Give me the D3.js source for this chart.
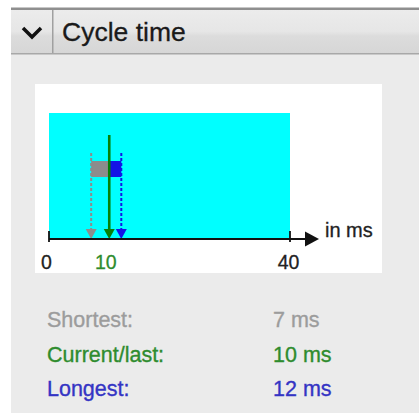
<!DOCTYPE html>
<html>
<head>
<meta charset="utf-8">
<script src="https://cdn.jsdelivr.net/npm/d3@7"></script>
<style>
body{margin:0;background:#fff;}
svg{display:block;font-family:"Liberation Sans",Arial,sans-serif;}
</style>
</head>
<body>
<svg id="drawing_region" width="419" height="413"></svg>
<script>
// cycle time values (ms)
const categories = ["Shortest", "Current/last", "Longest"]
const values = [7, 10, 12]
const valueLabels = ["7 ms", "10 ms", "12 ms"]
const tickValues = [0, 10, 40]
const tickLabels = ["0", "10", "40"]
const rangeMax = 40
const unitLabel = "in ms"
const title = "Cycle time"

const colors = ["#8c8c8c", "#078007", "#1414e6"]
const textColors = ["#9c9c9c", "#2e8c2e", "#3434c4"]

const svg = d3.select("#drawing_region")

// panel
svg.append("rect").attr("x",11).attr("y",8).attr("width",408).attr("height",405).attr("fill","#ebebeb")

// header
const grad = svg.append("defs").append("linearGradient")
    .attr("id","hdr").attr("x1",0).attr("y1",0).attr("x2",0).attr("y2",1)
grad.append("stop").attr("offset","0%").attr("stop-color","#ececec")
grad.append("stop").attr("offset","50%").attr("stop-color","#e6e6e6")
grad.append("stop").attr("offset","60%").attr("stop-color","#dcdcdc")
grad.append("stop").attr("offset","100%").attr("stop-color","#d6d6d6")
svg.append("rect").attr("x",11).attr("y",9).attr("width",408).attr("height",45).attr("fill","url(#hdr)")
svg.append("rect").attr("x",11).attr("y",7.5).attr("width",408).attr("height",2.5).attr("fill","#8f8f8f")
svg.append("rect").attr("x",11).attr("y",53).attr("width",408).attr("height",1.5).attr("fill","#a8a8a8")
svg.append("rect").attr("x",52).attr("y",10).attr("width",1.5).attr("height",43).attr("fill","#a0a0a0")
svg.append("path")
    .attr("d","M23,28 L32,37 L41,28")
    .attr("fill","none").attr("stroke","#111").attr("stroke-width",3.5)
svg.append("text").attr("x",62).attr("y",41)
    .attr("font-size","26.5px").attr("fill","#1a1a1a")
    .attr("stroke","#1a1a1a").attr("stroke-width",0.3).text(title)

// chart box
svg.append("rect").attr("x",35).attr("y",84).attr("width",347).attr("height",189).attr("fill","#fff")

const chart = svg.append("g")
const xscale = d3.scaleLinear().domain([0, rangeMax]).range([49, 290])
const axisY = 239
const rangeTop = 113
const barTop = 161, barBottom = 177

chart.append("rect")
    .attr("x",xscale(0)).attr("y",rangeTop)
    .attr("width",xscale(rangeMax)-xscale(0)).attr("height",axisY-rangeTop)
    .attr("fill","#00ffff")

// min..current bar (gray), current..max bar (blue)
chart.append("rect")
    .attr("x",xscale(values[0])).attr("y",barTop)
    .attr("width",xscale(values[1])-xscale(values[0])).attr("height",barBottom-barTop)
    .attr("fill",colors[0])
chart.append("rect")
    .attr("x",xscale(values[1])).attr("y",barTop)
    .attr("width",xscale(values[2])-xscale(values[1])).attr("height",barBottom-barTop)
    .attr("fill",colors[2])

// arrow lines
const lineTops = [153, 135, 153]
categories.forEach((c,i)=>{
    const x = xscale(values[i])
    chart.append("line")
        .attr("x1",x).attr("x2",x).attr("y1",lineTops[i]).attr("y2",axisY-6)
        .attr("stroke",colors[i]).attr("stroke-width",i==1?2.6:2)
        .attr("stroke-dasharray",i==1?null:"3,2")
    chart.append("path")
        .attr("d",`M${x-5.5},${axisY-10} L${x+5.5},${axisY-10} L${x},${axisY} Z`)
        .attr("fill",colors[i])
})

// axis
const xaxis = d3.axisBottom(xscale)
    .tickValues(tickValues)
    .tickFormat((d,i)=>tickLabels[i])
    .tickSize(0)
    .tickPadding(16)
const axisGroup = chart.append("g")
    .attr("transform",`translate(0,${axisY})`)
    .call(xaxis)
axisGroup.select(".domain").remove()
axisGroup.selectAll("text")
    .attr("font-size","19.5px")
    .attr("font-family","Liberation Sans, Arial, sans-serif")
    .attr("fill",(d)=>d==values[1]?textColors[1]:"#222")
    .attr("stroke",(d)=>d==values[1]?textColors[1]:"#222")
    .attr("stroke-width",0.3)
    .attr("dx",(d,i)=>i==0?-3:(i==2?-2:-4))

chart.append("line")
    .attr("x1",xscale(0)).attr("x2",308).attr("y1",axisY).attr("y2",axisY)
    .attr("stroke","#111").attr("stroke-width",2.2)
chart.append("path")
    .attr("d",`M305,${axisY-7.5} L319,${axisY} L305,${axisY+7.5} Z`)
    .attr("fill","#111")
;[0, rangeMax].forEach(v=>{
    chart.append("line")
        .attr("x1",xscale(v)).attr("x2",xscale(v)).attr("y1",axisY-8).attr("y2",axisY+3)
        .attr("stroke","#111").attr("stroke-width",1.8)
})
chart.append("text").attr("x",325).attr("y",237)
    .attr("font-size","20px").attr("fill","#222")
    .attr("stroke","#222").attr("stroke-width",0.3).text(unitLabel)

// stats
const stats = svg.append("g")
categories.forEach((c,i)=>{
    const y = 327 + i*34.5
    stats.append("text").attr("x",47).attr("y",y)
        .attr("font-size","21.5px").attr("fill",textColors[i])
        .attr("stroke",textColors[i]).attr("stroke-width",0.35).text(c+":")
    stats.append("text").attr("x",273).attr("y",y)
        .attr("font-size","21.5px").attr("fill",textColors[i])
        .attr("stroke",textColors[i]).attr("stroke-width",0.35).text(valueLabels[i])
})
</script>
</body>
</html>
